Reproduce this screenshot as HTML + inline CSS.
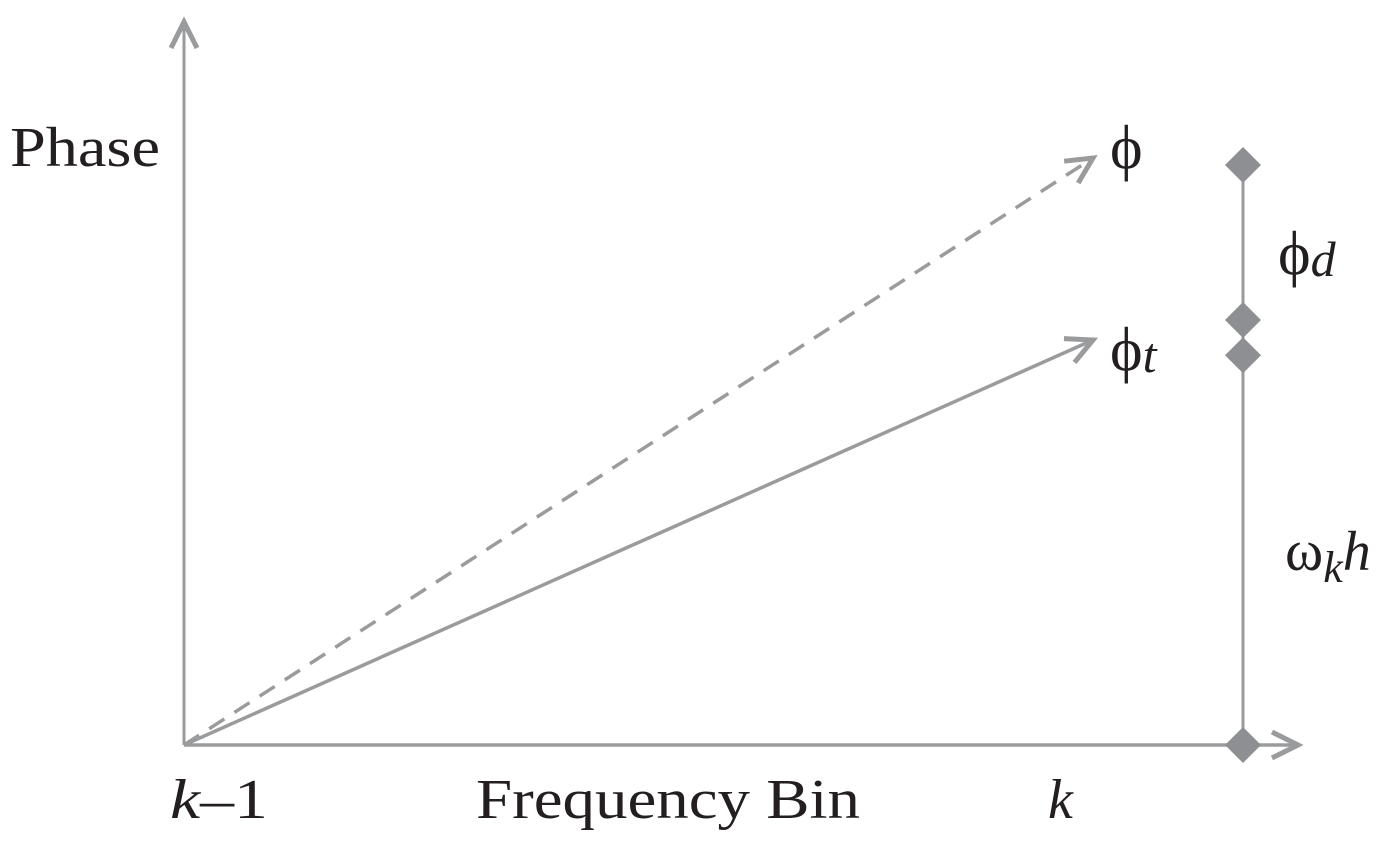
<!DOCTYPE html>
<html><head><meta charset="utf-8"><style>
html,body{margin:0;padding:0;background:#fff;}
svg{display:block;}
text{font-family:"Liberation Serif",serif;fill:#231f20;}
</style></head><body>
<svg id="chart" width="1400" height="868" viewBox="0 0 1400 868" xmlns="http://www.w3.org/2000/svg">
<g id="g"></g>
<text x="10" y="166" font-size="56" textLength="150" lengthAdjust="spacingAndGlyphs">Phase</text>
<text x="476" y="818" font-size="56" textLength="384" lengthAdjust="spacingAndGlyphs">Frequency Bin</text>
<text x="170" y="818" font-size="56" textLength="98" lengthAdjust="spacingAndGlyphs"><tspan font-style="italic">k</tspan>–1</text>
<text x="1048" y="818" font-size="56" font-style="italic">k</text>
<text x="1110" y="168" font-size="62">ϕ</text>
<text x="1110" y="370" font-size="62">ϕ<tspan font-style="italic" font-size="50" dy="2">t</tspan></text>
<text x="1278" y="274" font-size="62">ϕ<tspan font-style="italic" font-size="50" dy="2">d</tspan></text>
<text x="1285" y="570" font-size="58">ω<tspan font-style="italic" font-size="44" dy="12">k</tspan><tspan font-style="italic" font-size="56" dy="-12">h</tspan></text>
</svg>
<script>
// phase values (pixel-free units): origin 0, measured phase, true phase
const binLabels = ["k-1", "k"];
const measuredPhase = [0, 1.0];
const truePhase = [0, 0.69];
const markerPhases = [0.988, 0.724, 0.664, 0];
const NS = "http://www.w3.org/2000/svg";
const g = document.getElementById('g');
const x0 = 184, x1 = 1093, xm = 1243;
const y0 = 745, yTop = 158;
function yScale(v){ return y0 - v * (y0 - yTop); }
function xScale(i){ return x0 + i * (x1 - x0); }
const grey = "#9a9b9d";
function line(x1_, y1_, x2_, y2_, w, dash, name){
  const l = document.createElementNS(NS, 'line');
  l.setAttribute('x1', x1_); l.setAttribute('y1', y1_); l.setAttribute('x2', x2_); l.setAttribute('y2', y2_);
  l.setAttribute('stroke', grey); l.setAttribute('stroke-width', w);
  if (dash) l.setAttribute('stroke-dasharray', dash);
  
  
  g.appendChild(l); return l;
}
function head(x, y, ang, name){
  const p = document.createElementNS(NS, 'path');
  const L = 26, W = 13;
  const c = Math.cos(ang), s = Math.sin(ang);
  const bx = x - L*c, by = y - L*s;
  p.setAttribute('d', `M${bx - W*s},${by + W*c} L${x},${y} L${bx + W*s},${by - W*c}`);
  p.setAttribute('fill', 'none'); p.setAttribute('stroke', grey); p.setAttribute('stroke-width', 5);
  p.setAttribute('stroke-linejoin', 'miter');
  
  
  g.appendChild(p);
}
line(x0, y0, x0, 22, 3, null, 'y-axis');
head(x0, 22, -Math.PI/2, 'y-axis-arrowhead');
line(x0, y0, 1298, y0, 3.5, null, 'x-axis');
head(1298, y0, 0, 'x-axis-arrowhead');
line(xm, yScale(markerPhases[0]), xm, y0, 3, null, 'phase-measure-line');
function arrow(vals, dash, name){
  const ax = xScale(0), ay = yScale(vals[0]), bx = xScale(1), by = yScale(vals[1]);
  line(ax, ay, bx, by, 3.5, dash, name);
  head(bx, by, Math.atan2(by - ay, bx - ax), name + '-head');
}
arrow(measuredPhase, "18,12", 'measured-phase-arrow');
arrow(truePhase, null, 'true-phase-arrow');
markerPhases.forEach((v) => {
  const d = document.createElementNS(NS, 'path');
  const cy = yScale(v), r = 18;
  d.setAttribute('d', `M${xm},${cy - r} L${xm + r},${cy} L${xm},${cy + r} L${xm - r},${cy} Z`);
  d.setAttribute('fill', '#8e8f92');
  
  
  g.appendChild(d);
});
</script>
</body></html>
